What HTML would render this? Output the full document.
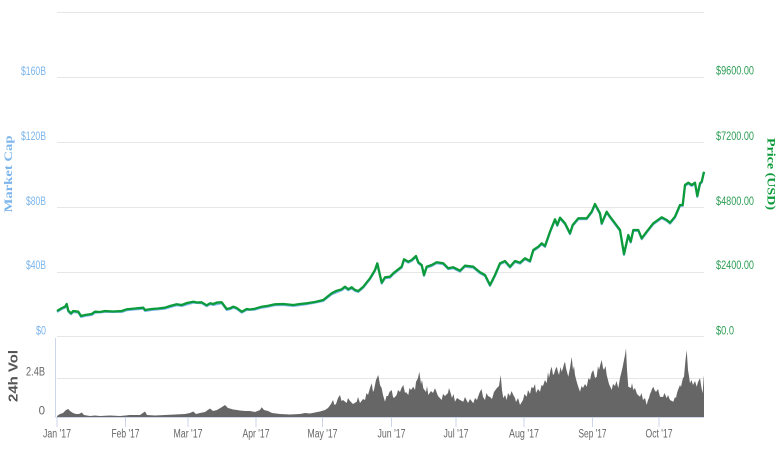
<!DOCTYPE html>
<html><head><meta charset="utf-8"><style>
html,body{margin:0;padding:0;background:#fff;}
svg{display:block;font-family:"Liberation Sans Narrow","Liberation Sans",sans-serif;}
</style></head><body>
<svg width="780" height="450" viewBox="0 0 780 450" xmlns="http://www.w3.org/2000/svg">
<rect width="780" height="450" fill="#fff"/>
<!-- gridlines -->
<g stroke="#e6e6e6" stroke-width="1">
<line x1="57" y1="12.5" x2="704" y2="12.5"/>
<line x1="57" y1="77.5" x2="704" y2="77.5"/>
<line x1="57" y1="142.5" x2="704" y2="142.5"/>
<line x1="57" y1="207.5" x2="704" y2="207.5"/>
<line x1="57" y1="272.5" x2="704" y2="272.5"/>
<line x1="57" y1="336.5" x2="704" y2="336.5"/>
<line x1="57" y1="378.5" x2="704" y2="378.5"/>
</g>
<!-- volume axis -->
<line x1="55.5" y1="338" x2="55.5" y2="417" stroke="#ccd6eb" stroke-width="1"/>
<!-- volume area -->
<path fill="#666666" d="M57,417 L57,416 60,414 63,413 66,410 68.3,409 70,411 73,413 76,414 79,414 81.7,412.5 84,415 90,416 95,415.5 100,416 110,415.5 120,416 130,415 140,415 145,411.5 147,415 155,415.5 165,415 175,414.5 185,414 190,413 193.3,411.5 196,414 200,413 205,412 210,408.5 213,411 217,410 222,407 225,405 228,408 233.3,409.5 237,410 240,410.5 245,411 250,411 255,412 260,410 261.7,407.3 264,410 268,411 272,413 280,414 290,414.5 300,414 305,413 310,413.5 315,412.5 320,411.5 325,410 328,408 331,404 333,400 334.5,405 336,404 338,398 340,395 341.5,401 343,400 346.7,403 348,398 350,401 353,404 356.7,401.7 358,397 360,403 363,399 365,400 366.5,393 368,395 370,388 371.7,383.3 373,392 374,390 376,380 378.3,375 380,385 381.7,388.3 383,395 385,401.7 386.5,396 388,396 389.5,392 391.7,390 393,397 394,398 396.7,395 398,390 400,392 401.5,388 403.3,385 405,393 406,392 408.3,395 409.5,388 411,390 413.3,386.7 415,390 416,382 418,378 419.3,371.7 421,384 422,380 423.3,388.3 426,392 427,386 428.3,395 431,391 433,393 435,388.3 436.5,392 438,396 441.7,400 443,394 445,396 448,393 449,388 450,391 452,398 453.5,394 455,401.7 457,398 460,400 463.3,401.7 465,397 468,403 470,399 473.3,403.3 475,398 477,400 479,394 480,391.7 481.5,389 483,397 485,400 486.5,393 488,396 490,397 492,399 494,392 496.7,388.3 499,386 500.7,375 502,390 503.3,398.3 505,395 506.7,400 508,393 510,396 511.5,391 513.3,395 515,398 516,402 518,398 520,405 523,400 524.5,394 526.7,396.7 528,390 530,394 531.5,387 533.3,388.3 535,384 536,393 538,389 540,391.7 541.5,385 543,386 545,380 546.7,383.3 548,372 549,378 550.5,370 551.7,366.7 553,375 554,374 555.5,369 556.7,366.7 558,372 559,375 560.5,367 561.7,371.7 563,368 564,364 565,361.7 566,368 567,372 568.3,376.7 569,373 570,368 571.7,356.7 573,370 574,366 575,375 576.5,381 578,386 580,391.7 581.5,386 583,388 585,384 586.7,386.7 588.5,378 590,380 591.5,373 593.3,370 595,378 596.7,376.7 598,366 599,370 600.5,364 601.7,360 603,368 604,370 605.5,366 606.7,375 608,380 609,384 611.7,390 613,384 615,386 616.5,381 618.3,388.3 620,378 621.5,372 622.7,366.7 624,360 625,355 626,348.3 627,370 628.3,386.7 631,388 632,383 633.3,390 635,388 637,394 640,396.7 641.5,393 643,400 645,398 646.7,405 648,400 649,398 650,394 651,392 652,389 653.3,386.7 654.5,390 656,392 658,389 660,396.7 663,397 664.5,393 666.7,398.3 668,395 670,400 673.3,401.7 675,397 676,398 677,393 678,390 680,385 681,387 682,382 683,378 684,376.7 685.5,360 686.7,350 688,370 689,376 690,383.3 691.5,380 693,385 695,381 696.7,386.7 698,382 700,378.3 701.5,388 702.7,393.3 703.5,380 704,375 704,417 Z"/>
<!-- x axis -->
<line x1="55.5" y1="417.5" x2="704" y2="417.5" stroke="#ccd6eb" stroke-width="1"/>
<g stroke="#ccd6eb" stroke-width="1">
<line x1="57" y1="417" x2="57" y2="427"/>
<line x1="125.5" y1="417" x2="125.5" y2="427"/>
<line x1="188" y1="417" x2="188" y2="427"/>
<line x1="256" y1="417" x2="256" y2="427"/>
<line x1="322.5" y1="417" x2="322.5" y2="427"/>
<line x1="391.5" y1="417" x2="391.5" y2="427"/>
<line x1="456" y1="417" x2="456" y2="427"/>
<line x1="524" y1="417" x2="524" y2="427"/>
<line x1="592.5" y1="417" x2="592.5" y2="427"/>
<line x1="659" y1="417" x2="659" y2="427"/>
</g>
<!-- market cap line (blue, under) -->
<polyline fill="none" stroke="#7cb5ec" stroke-width="2" stroke-linejoin="round" transform="translate(0,1)" points="57,311 62,308 65,306.7 66.7,304 68.3,310.7 71,313.3 73.3,311 78.3,311.7 81,316 85,315 91.7,314 95,311.7 105,311 121.7,311 126.7,309.3 143.3,307.7 145,310 151.7,309 165,307.7 176.7,304.3 181.7,305 193.3,301.7 201.7,302.3 206.7,305.3 210,303.3 213.3,304 221.7,302.3 226.7,309 230,308.3 233.3,306.7 236.7,308 241.7,311.7 246.7,309 255,308.7 261.7,306.7 268.3,305.7 275,304.3 283.3,304 293.3,305 306.7,303.3 323.3,300 331.7,293.3 341.7,289.3 345,286.7 348.3,289.3 351.7,287.3 355,290 358.3,291 363.3,286.7 370,278.3 375,270 377.3,263.3 381.7,282.7 385,277.3 390,276.7 393.3,273.3 398.3,269.3 401.7,266.7 404,259.3 408.3,261.7 411.7,260 416,256 418.3,262.3 421.7,265 424,275 426.7,266.7 431.7,265 436.7,262.3 443.3,263.3 448.3,268.3 453.3,267.3 460,270.7 465,265.7 473.3,266.7 480,272.3 485,275 490,285 495,275 500,263.3 505,261 510,266.7 515,261 520,262.7 525,258.3 530,261 533.3,250 538.3,246.7 541.7,243.3 545,246 550,231.7 555,219.3 557.3,225 560,217.7 565,223.3 570,233.3 572.7,225 578.3,218.3 586.7,218.3 591.7,211.7 595,204 600,213.3 601.7,223.3 606.7,211.7 610,216.7 615,223.3 620,230 624,254 628.3,235 630.7,241.7 633.3,230 638.3,230 641.7,238.3 646.7,231.7 653.3,223.3 661.7,217.3 666.7,220 670,222.7 675,216.7 680,205 682.7,205 685,185 688.3,182.7 691.7,185 695,182.7 697.3,196 700,183.3 701.7,181.7 704,171.7"/>
<!-- price line (green) -->
<polyline fill="none" stroke="#0c9b3a" stroke-width="2.3" stroke-linejoin="round" points="57,311 62,308 65,306.7 66.7,304 68.3,310.7 71,313.3 73.3,311 78.3,311.7 81,316 85,315 91.7,314 95,311.7 100,312 105,311 113,311.5 121.7,311 126.7,309.3 135,308.5 143.3,307.7 145,310 151.7,309 158,308.5 165,307.7 170,306 176.7,304.3 181.7,305 187,303 193.3,301.7 197,302.5 201.7,302.3 206.7,305.3 210,303.3 213.3,304 217,302.5 221.7,302.3 226.7,309 230,308.3 233.3,306.7 236.7,308 241.7,311.7 246.7,309 250,309.5 255,308.7 261.7,306.7 268.3,305.7 275,304.3 283.3,304 293.3,305 300,304 306.7,303.3 315,302 323.3,300 327,297 331.7,293.3 336,291 341.7,289.3 345,286.7 348.3,289.3 351.7,287.3 355,290 358.3,291 363.3,286.7 370,278.3 375,270 377.3,263.3 381.7,282.7 385,277.3 390,276.7 393.3,273.3 398.3,269.3 401.7,266.7 404,259.3 408.3,261.7 411.7,260 416,256 418.3,262.3 421.7,265 424,275 426.7,266.7 431.7,265 436.7,262.3 443.3,263.3 448.3,268.3 453.3,267.3 460,270.7 465,265.7 473.3,266.7 480,272.3 485,275 490,285 495,275 500,263.3 505,261 510,266.7 515,261 520,262.7 525,258.3 530,261 533.3,250 538.3,246.7 541.7,243.3 545,246 550,231.7 555,219.3 557.3,225 560,217.7 565,223.3 570,233.3 572.7,225 578.3,218.3 586.7,218.3 591.7,211.7 595,204 600,213.3 601.7,223.3 606.7,211.7 610,216.7 615,223.3 620,230 624,254 628.3,235 630.7,241.7 633.3,230 638.3,230 641.7,238.3 646.7,231.7 653.3,223.3 661.7,217.3 666.7,220 670,222.7 675,216.7 680,205 682.7,205 685,185 688.3,182.7 691.7,185 695,182.7 697.3,196 700,183.3 701.7,181.7 704,171.7"/>
<!-- left axis labels -->
<g fill="#7cb5ec" font-size="11.5" text-anchor="end">
<text x="46" y="75" textLength="25" lengthAdjust="spacingAndGlyphs">$160B</text>
<text x="46" y="140" textLength="25" lengthAdjust="spacingAndGlyphs">$120B</text>
<text x="46" y="205" textLength="20" lengthAdjust="spacingAndGlyphs">$80B</text>
<text x="46" y="269" textLength="20" lengthAdjust="spacingAndGlyphs">$40B</text>
<text x="46" y="334.5" textLength="10" lengthAdjust="spacingAndGlyphs">$0</text>
</g>
<!-- right axis labels -->
<g fill="#2e9e55" font-size="11.5">
<text x="716" y="74.5" textLength="38" lengthAdjust="spacingAndGlyphs">$9600.00</text>
<text x="716" y="140" textLength="38" lengthAdjust="spacingAndGlyphs">$7200.00</text>
<text x="716" y="205" textLength="38" lengthAdjust="spacingAndGlyphs">$4800.00</text>
<text x="716" y="269" textLength="38" lengthAdjust="spacingAndGlyphs">$2400.00</text>
<text x="716" y="334.5" textLength="18" lengthAdjust="spacingAndGlyphs">$0.0</text>
</g>
<!-- volume labels -->
<g fill="#666" font-size="11.5" text-anchor="end">
<text x="45" y="375.5" textLength="19" lengthAdjust="spacingAndGlyphs">2.4B</text>
<text x="45" y="414.5">0</text>
</g>
<!-- month labels -->
<g fill="#666" font-size="11.5" text-anchor="middle">
<text x="57" y="437.5" textLength="28" lengthAdjust="spacingAndGlyphs">Jan '17</text>
<text x="125.5" y="437.5" textLength="28" lengthAdjust="spacingAndGlyphs">Feb '17</text>
<text x="188" y="437.5" textLength="29" lengthAdjust="spacingAndGlyphs">Mar '17</text>
<text x="256" y="437.5" textLength="27" lengthAdjust="spacingAndGlyphs">Apr '17</text>
<text x="322.5" y="437.5" textLength="30" lengthAdjust="spacingAndGlyphs">May '17</text>
<text x="391.5" y="437.5" textLength="28" lengthAdjust="spacingAndGlyphs">Jun '17</text>
<text x="456" y="437.5" textLength="25" lengthAdjust="spacingAndGlyphs">Jul '17</text>
<text x="524" y="437.5" textLength="30" lengthAdjust="spacingAndGlyphs">Aug '17</text>
<text x="592.5" y="437.5" textLength="28" lengthAdjust="spacingAndGlyphs">Sep '17</text>
<text x="659" y="437.5" textLength="27" lengthAdjust="spacingAndGlyphs">Oct '17</text>
</g>
<!-- axis titles -->
<text transform="translate(12,174) rotate(-90)" fill="#7cb5ec" font-size="12" font-weight="bold" text-anchor="middle" font-family="Liberation Serif, serif" textLength="77" lengthAdjust="spacingAndGlyphs">Market Cap</text>
<text transform="translate(767.5,174) rotate(90)" fill="#0c9b3a" font-size="12" font-weight="bold" text-anchor="middle" font-family="Liberation Serif, serif" textLength="72" lengthAdjust="spacingAndGlyphs">Price (USD)</text>
<text transform="translate(17.5,376) rotate(-90)" fill="#555" font-size="13" font-weight="bold" text-anchor="middle" font-family="Liberation Sans, sans-serif" textLength="52" lengthAdjust="spacingAndGlyphs">24h Vol</text>
</svg>
</body></html>
